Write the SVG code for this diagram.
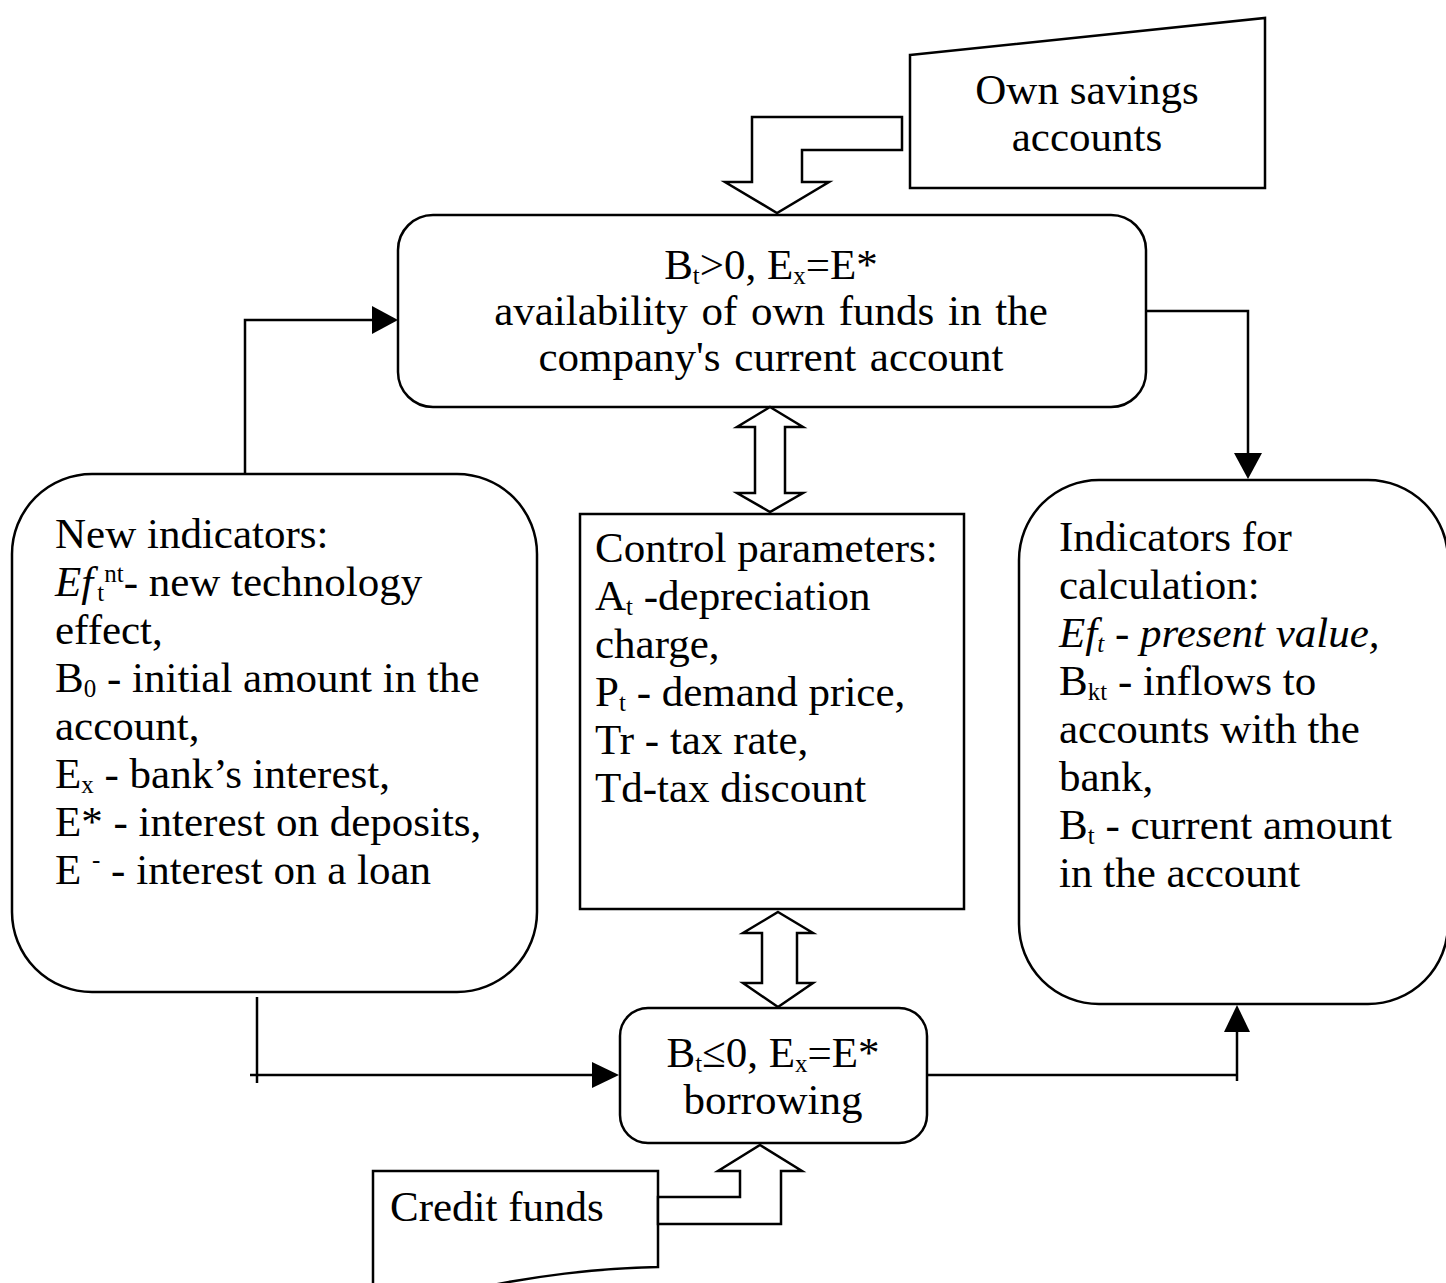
<svg xmlns="http://www.w3.org/2000/svg" width="1446" height="1283" viewBox="0 0 1446 1283">
<style>
.shape{fill:#fff;stroke:#000;stroke-width:2.5}
.line{fill:none;stroke:#000;stroke-width:2.5}
.head{fill:#000;stroke:none}
.block{fill:#fff;stroke:#000;stroke-width:2.5;stroke-linejoin:miter}
text{font-family:"Liberation Serif","Times New Roman",serif;font-size:43px;fill:#000}
.c{text-anchor:middle}
.sub{font-size:25px}
.it{font-style:italic}
.ws{word-spacing:3px}
</style>
<rect width="1446" height="1283" fill="#fff"/>
<g id="own-savings">
<polygon class="shape" points="910,55 1265,18 1265,188 910,188"/>
<text class="c" x="1087" y="104">Own savings</text>
<text class="c" x="1087" y="151">accounts</text>
</g>
<g id="own-funds">
<rect class="shape" x="398" y="215" width="748" height="192" rx="35"/>
<text class="c" x="771" y="279">B<tspan class="sub" dy="5">t</tspan><tspan dy="-5">&gt;0, E</tspan><tspan class="sub" dy="5">x</tspan><tspan dy="-5">=E*</tspan></text>
<text class="c ws" x="771" y="325">availability of own funds in the</text>
<text class="c ws" x="771" y="371">company's current account</text>
</g>
<g id="new-indicators">
<rect class="shape" x="12" y="474" width="525" height="518" rx="80"/>
<text x="55" y="548">New indicators:</text>
<text x="55" y="596"><tspan class="it">Ef</tspan><tspan class="sub" dx="4" dy="5">t</tspan><tspan class="sub" dy="-19">nt</tspan><tspan dy="14">- new technology</tspan></text>
<text x="55" y="644">effect,</text>
<text x="55" y="692">B<tspan class="sub" dy="5">0</tspan><tspan dy="-5"> - initial amount in the</tspan></text>
<text x="55" y="740">account,</text>
<text x="55" y="788">E<tspan class="sub" dy="5">x</tspan><tspan dy="-5"> - bank’s interest,</tspan></text>
<text x="55" y="836">E* - interest on deposits,</text>
<text x="55" y="884">E <tspan class="sub" dy="-16">-</tspan><tspan dy="16"> - interest on a loan</tspan></text>
</g>
<g id="control-parameters">
<rect class="shape" x="580" y="514" width="384" height="395"/>
<text x="595" y="562">Control parameters:</text>
<text x="595" y="610">A<tspan class="sub" dy="5">t</tspan><tspan dy="-5"> -depreciation</tspan></text>
<text x="595" y="658">charge,</text>
<text x="595" y="706">P<tspan class="sub" dy="5">t</tspan><tspan dy="-5"> - demand price,</tspan></text>
<text x="595" y="754">Tr - tax rate,</text>
<text x="595" y="802">Td-tax discount</text>
</g>
<g id="indicators-calculation">
<rect class="shape" x="1019" y="480" width="429" height="524" rx="80"/>
<text x="1059" y="551">Indicators for</text>
<text x="1059" y="599">calculation:</text>
<text x="1059" y="647" class="it">Ef<tspan class="sub" dy="5">t</tspan><tspan dy="-5"> - present value,</tspan></text>
<text x="1059" y="695">B<tspan class="sub" dy="5">kt</tspan><tspan dy="-5"> - inflows to</tspan></text>
<text x="1059" y="743">accounts with the</text>
<text x="1059" y="791">bank,</text>
<text x="1059" y="839">B<tspan class="sub" dy="5">t</tspan><tspan dy="-5"> - current amount</tspan></text>
<text x="1059" y="887">in the account</text>
</g>
<g id="borrowing">
<rect class="shape" x="620" y="1008" width="307" height="135" rx="28"/>
<text class="c" x="773" y="1067">B<tspan class="sub" dy="5">t</tspan><tspan dy="-5">≤0, E</tspan><tspan class="sub" dy="5">x</tspan><tspan dy="-5">=E*</tspan></text>
<text class="c" x="773" y="1114">borrowing</text>
</g>
<g id="credit-funds">
<path class="shape" d="M373,1300 V1171 H658 V1267 C600,1268 530,1276 470,1290 L460,1300"/>
<text x="390" y="1221">Credit funds</text>
</g>
<g id="connectors">
<polyline class="line" points="245,474 245,320 374,320"/>
<polygon class="head" points="372,306 398,320 372,334"/>
<polyline class="line" points="1146,311 1248,311 1248,455"/>
<polygon class="head" points="1234,453 1248,479 1262,453"/>
<line class="line" x1="257" y1="997" x2="257" y2="1083"/>
<line class="line" x1="250" y1="1075" x2="594" y2="1075"/>
<polygon class="head" points="592,1062 619,1075 592,1088"/>
<line class="line" x1="927" y1="1075" x2="1237" y2="1075"/>
<line class="line" x1="1237" y1="1081" x2="1237" y2="1030"/>
<polygon class="head" points="1224,1032 1237,1005 1250,1032"/>
<path class="block" d="M902,117 H752 V182 H725 L777,213 L829,182 H802 V150 H902 Z"/>
<path class="block" d="M770,407 L803,427 H785 V493 H803 L770,512 L737,493 H755 V427 H737 Z"/>
<path class="block" d="M778,912 L813,933 H797 V983 H813 L778,1007 L743,983 H762 V933 H743 Z"/>
<path class="block" d="M658,1197 H740 V1171 H718 L760,1145 L802,1171 H781 V1224 H658 Z"/>
</g>
</svg>
